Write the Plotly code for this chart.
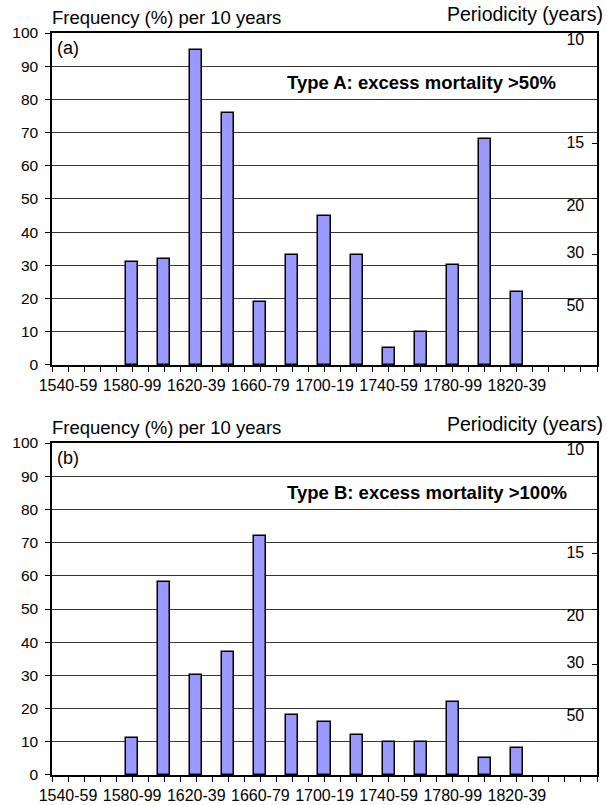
import plotly.graph_objects as go

# ---------------- data ----------------
categories = ["1540-59", "1560-79", "1580-99", "1600-19", "1620-39", "1640-59",
              "1660-79", "1680-99", "1700-19", "1720-39", "1740-59", "1760-79",
              "1780-99", "1800-19", "1820-39", "1840-59", "1860-79"]
shown_labels = ["1540-59", "1580-99", "1620-39", "1660-79", "1700-19",
                "1740-59", "1780-99", "1820-39"]
type_a = [None, None, 31, 32, 95, 76, 19, 33, 45, 33, 5, 10, 30, 68, 22, None, None]
type_b = [None, None, 11, 58, 30, 37, 72, 18, 16, 12, 10, 10, 22, 5, 8, None, None]
y_ticks = [0, 10, 20, 30, 40, 50, 60, 70, 80, 90, 100]
periodicity = [10, 15, 20, 30, 50]
# style: where each periodicity label sits relative to its tick
period_label_pos = ["bottom left", "middle left", "bottom left", "middle left", "bottom left"]

FONT = "Liberation Sans, Arial, sans-serif"
BAR_COLOR = "#9999ff"

idx = list(range(len(categories)))
tick_vals = [i / 2 - 0.5 for i in range(2 * len(categories) + 1)]
tick_text = []
for v in tick_vals:
    if float(v).is_integer() and categories[int(v)] in shown_labels:
        tick_text.append(categories[int(v)])
    else:
        tick_text.append("")

# frequency (% per 10 years) equivalent of each periodicity
period_vals = [1000 / p for p in periodicity]
label_x = len(categories) - 0.5 - 0.4   # just inside the right border

fig = go.Figure()

panels = [
    dict(vals=type_a, x="x", y="y", yp="y3", tag="(a)", title="Type A: excess mortality >50%"),
    dict(vals=type_b, x="x2", y="y2", yp="y4", tag="(b)", title="Type B: excess mortality >100%"),
]

for p in panels:
    fig.add_trace(go.Bar(
        x=idx, y=p["vals"], xaxis=p["x"], yaxis=p["y"], width=0.375,
        marker=dict(color=BAR_COLOR, line=dict(color="black", width=1.5)),
        showlegend=False, hoverinfo="x+y"))
    fig.add_trace(go.Scatter(
        x=[label_x] * len(period_vals), y=period_vals, xaxis=p["x"], yaxis=p["yp"],
        mode="text", text=[str(v) for v in periodicity], textposition=period_label_pos,
        textfont=dict(family=FONT, size=16, color="black"), cliponaxis=False,
        showlegend=False, hoverinfo="skip"))

domains = {"top": [0.5526, 1.0], "bottom": [0.0, 0.4474]}

def xaxis_def(anchor):
    return dict(domain=[0, 1], anchor=anchor, range=[-0.5, len(categories) - 0.5],
                tickmode="array", tickvals=tick_vals, ticktext=tick_text,
                ticks="outside", ticklen=5, tickcolor="black", tickwidth=1,
                showline=True, linecolor="black", linewidth=1.5, mirror=True,
                showgrid=False, zeroline=False, automargin=False,
                tickfont=dict(family=FONT, size=16, color="black"), tickangle=0)

def yaxis_def(anchor, domain):
    return dict(domain=domain, anchor=anchor, range=[0, 100],
                tickmode="array", tickvals=y_ticks,
                ticks="outside", ticklen=5, tickcolor="black",
                showline=True, linecolor="black", linewidth=1.5, mirror=True,
                showgrid=True, gridcolor="#333333", gridwidth=1, zeroline=False,
                automargin=False, ticklabelstandoff=4,
                tickfont=dict(family=FONT, size=15.5, color="black"))

def yper_def(anchor, overlay):
    return dict(overlaying=overlay, anchor=anchor, side="right", range=[0, 100],
                tickmode="array", tickvals=period_vals, ticks="inside", ticklen=5,
                tickcolor="black", showticklabels=False, showgrid=False,
                showline=False, zeroline=False, automargin=False)

fig.update_layout(
    width=607, height=805,
    margin=dict(l=52, r=10, t=33, b=30, autoexpand=False),
    paper_bgcolor="white", plot_bgcolor="white",
    font=dict(family=FONT, color="black"),
    bargap=0,
    xaxis=xaxis_def("y"),
    yaxis=yaxis_def("x", domains["top"]),
    xaxis2=xaxis_def("y2"),
    yaxis2=yaxis_def("x2", domains["bottom"]),
    yaxis3=yper_def("x", "y"),
    yaxis4=yper_def("x2", "y2"),
)

ann = []
for p in panels:
    xd = p["x"] + " domain"
    yd = p["y"] + " domain"
    ann.append(dict(text="Frequency (%) per 10 years", xref=xd, yref=yd, x=0, y=1,
                    xanchor="left", yanchor="bottom", xshift=-2, yshift=3,
                    showarrow=False, font=dict(family=FONT, size=18.5)))
    ann.append(dict(text="Periodicity (years)", xref=xd, yref=yd, x=1, y=1,
                    xanchor="right", yanchor="bottom", xshift=8, yshift=6,
                    showarrow=False, font=dict(family=FONT, size=19.5)))
    ann.append(dict(text=p["tag"], xref=xd, yref=yd, x=0, y=1,
                    xanchor="left", yanchor="top", xshift=3, yshift=-3,
                    showarrow=False, font=dict(family=FONT, size=18)))
    ann.append(dict(text="<b>" + p["title"] + "</b>", xref=xd, yref=p["y"],
                    x=0.4275, y=85, xanchor="left", yanchor="middle",
                    showarrow=False, font=dict(family=FONT, size=18.5)))

fig.update_layout(annotations=ann)

fig.write_html("out.html", config={"displayModeBar": False},
               post_script="document.body.style.margin='0';")
